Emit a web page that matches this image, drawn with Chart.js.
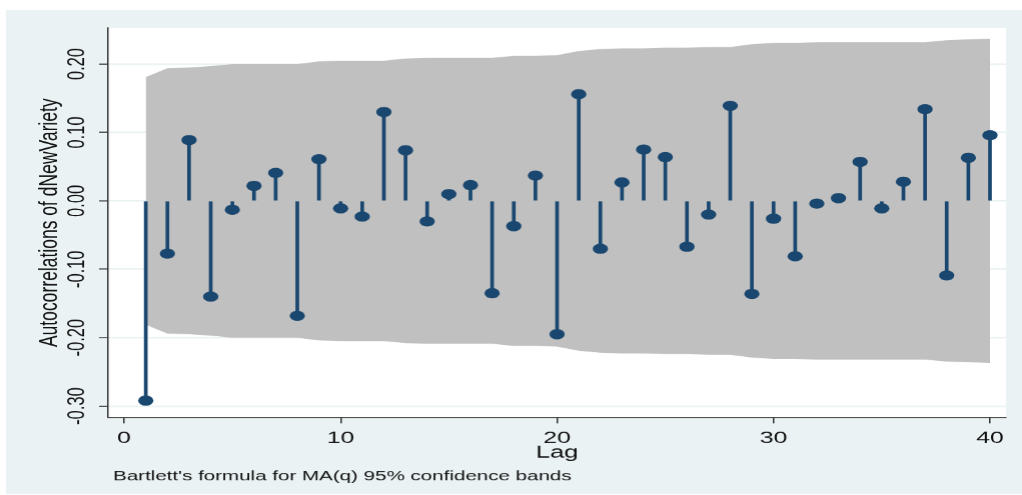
<!DOCTYPE html>
<html><head><meta charset="utf-8">
<script src="https://cdn.jsdelivr.net/npm/chart.js@4.4.1/dist/chart.umd.min.js"></script>
<style>
html,body{margin:0;padding:0;background:#fff;overflow:hidden;}
#wrap{position:absolute;left:0;top:0;width:681px;height:495px;transform:scaleX(1.50073);transform-origin:0 0;}
canvas{display:block;}
</style></head><body>
<div id="wrap"><canvas id="c" width="681" height="495" style="width:681px;height:495px"></canvas></div>
<script>
const lags = [1,2,3,4,5,6,7,8,9,10,11,12,13,14,15,16,17,18,19,20,21,22,23,24,25,26,27,28,29,30,31,32,33,34,35,36,37,38,39,40];
const acf = [-0.292,-0.077,0.089,-0.140,-0.013,0.022,0.041,-0.168,0.061,-0.011,
             -0.023,0.130,0.074,-0.030,0.010,0.023,-0.135,-0.037,0.037,-0.195,
             0.156,-0.070,0.027,0.075,0.064,-0.067,-0.020,0.139,-0.136,-0.026,
             -0.081,-0.004,0.004,0.057,-0.011,0.028,0.134,-0.109,0.063,0.096];
const bandUpper = [0.181,0.194,0.195,0.197,0.200,0.200,0.200,0.200,0.204,0.205,
                   0.205,0.205,0.208,0.209,0.209,0.209,0.209,0.212,0.212,0.213,
                   0.219,0.222,0.223,0.223,0.224,0.224,0.225,0.225,0.229,0.231,
                   0.231,0.232,0.232,0.232,0.232,0.232,0.232,0.235,0.236,0.237];
const bandLower = [-0.181,-0.194,-0.195,-0.197,-0.200,-0.200,-0.200,-0.200,-0.204,-0.205,
                   -0.205,-0.205,-0.208,-0.209,-0.209,-0.209,-0.209,-0.212,-0.212,-0.213,
                   -0.219,-0.222,-0.223,-0.223,-0.224,-0.224,-0.225,-0.225,-0.229,-0.231,
                   -0.231,-0.232,-0.232,-0.232,-0.232,-0.232,-0.232,-0.235,-0.236,-0.237];
const yTicks = [-0.3,-0.2,-0.1,0,0.1,0.2];
const xTicks = [0,10,20,30,40];
const yTitle = 'Autocorrelations of dNewVariety';
const xTitle = 'Lag';
const note = "Bartlett's formula for MA(q) 95% confidence bands";

const FONT = '"Liberation Sans", Arial, Helvetica, sans-serif';
Chart.defaults.font.family = FONT;
const NAVY = '#1A476F';
const toXY = ys => lags.map((l, i) => ({x: l, y: ys[i]}));

const bgPlugin = {
  id: 'bg',
  beforeDraw(chart) {
    const {ctx, chartArea: a} = chart;
    ctx.save();
    ctx.fillStyle = '#ffffff';
    ctx.fillRect(0, 0, chart.width, chart.height);
    ctx.fillStyle = '#EAF2F3';
    ctx.fillRect(4, 10, chart.width - 4, 484);
    ctx.fillStyle = '#ffffff';
    ctx.fillRect(a.left, a.top, a.right - a.left, a.bottom - a.top);
    ctx.restore();
  }
};
const noteShift = {
  id: 'noteShift',
  afterLayout(chart) {
    if (chart.titleBlock) chart.titleBlock.left += 3.3;
  }
};

new Chart(document.getElementById('c'), {
  type: 'bar',
  data: {
    datasets: [
      {type: 'line', label: 'acf', data: toXY(acf), showLine: false, pointRadius: 5.1, pointHoverRadius: 5.1,
       pointBackgroundColor: NAVY, pointBorderWidth: 0, borderColor: NAVY, order: 1},
      {type: 'bar', label: 'spikes', data: toXY(acf), backgroundColor: NAVY, borderWidth: 0,
       barThickness: 1.8, order: 2},
      {type: 'line', label: 'upper', data: toXY(bandUpper), fill: '+1', backgroundColor: '#C0C0C0',
       borderColor: 'rgba(0,0,0,0)', borderWidth: 0, pointRadius: 0, tension: 0, order: 3},
      {type: 'line', label: 'lower', data: toXY(bandLower), fill: false,
       borderColor: 'rgba(0,0,0,0)', borderWidth: 0, pointRadius: 0, tension: 0, order: 4}
    ]
  },
  options: {
    responsive: false,
    animation: false,
    devicePixelRatio: 1.5,
    layout: {padding: {top: 28, right: 11, bottom: 0, left: 0}},
    plugins: {
      legend: {display: false},
      tooltip: {enabled: false},
      title: {display: true, text: note, position: 'bottom', align: 'start', fullSize: false,
              color: '#111', font: {family: FONT, size: 13.7, weight: 'normal'},
              padding: {top: 2, bottom: 10.5}}
    },
    scales: {
      x: {
        type: 'linear', min: -0.74, max: 40.74, offset: false,
        afterBuildTicks: s => { s.ticks = xTicks.map(v => ({value: v})); },
        afterFit: s => { s.height = 49; },
        grid: {drawOnChartArea: false, drawTicks: true, tickLength: 6, tickColor: '#333', tickWidth: 1, offset: false},
        border: {display: true, color: '#333', width: 1},
        ticks: {color: '#111', font: {size: 16.5}, padding: 4.9, maxRotation: 0, autoSkip: false},
        title: {display: true, text: xTitle, color: '#111', font: {size: 17}, padding: {top: 0, bottom: 3.3}}
      },
      y: {
        type: 'linear', min: -0.3165, max: 0.2527,
        afterBuildTicks: s => { s.ticks = yTicks.map(v => ({value: v})); },
        afterFit: s => { s.width = 72; },
        grid: {color: '#EAF2F3', lineWidth: 1.5, drawTicks: true, tickLength: 6, tickColor: '#333', tickWidth: 1},
        border: {display: true, color: '#333', width: 1},
        ticks: {color: '#111', font: {size: 16.5}, padding: -4.1, minRotation: 90, maxRotation: 90,
                crossAlign: 'center', callback: v => Number(v).toFixed(2)},
        title: {display: true, text: yTitle, color: '#111', font: {size: 17.5}, padding: {top: 22.9, bottom: 0}}
      }
    }
  },
  plugins: [bgPlugin, noteShift]
});
</script>
</body></html>
